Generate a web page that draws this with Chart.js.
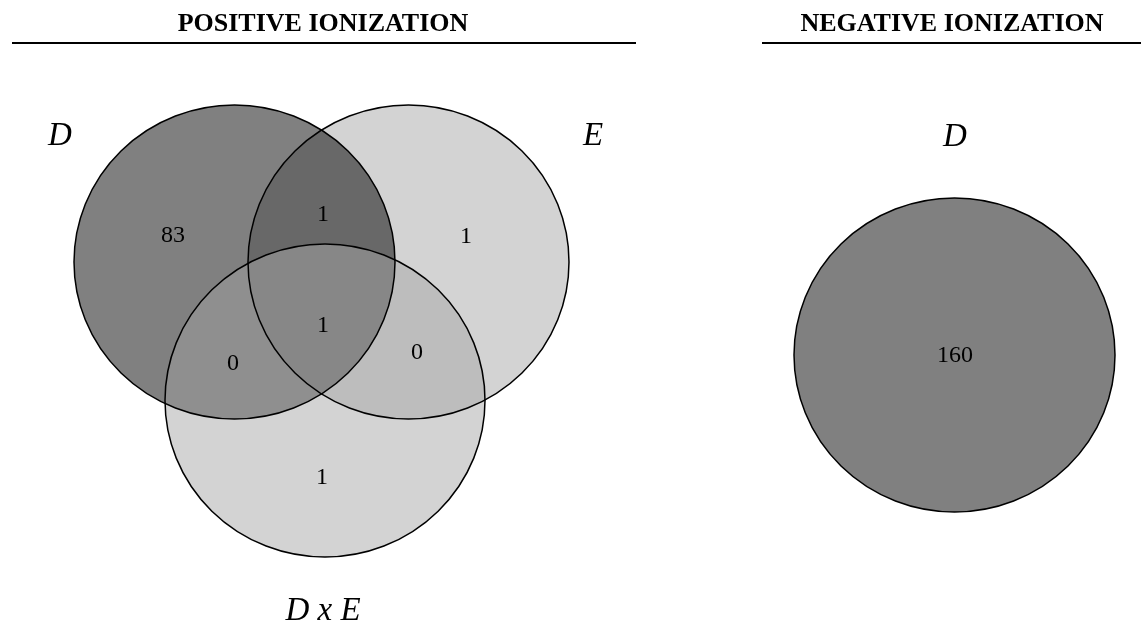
<!DOCTYPE html>
<html><head><meta charset="utf-8">
<script src="https://cdn.jsdelivr.net/npm/chart.js@4.4.1/dist/chart.umd.min.js"></script>
<style>html,body{margin:0;padding:0;background:#fff;overflow:hidden}#wrap{width:1147px;height:623px;position:relative}</style>
</head><body><div id="wrap"><canvas id="c" width="1147" height="623"></canvas></div>
<script>
// ---- data ----
const panelTitles = ['POSITIVE IONIZATION', 'NEGATIVE IONIZATION'];
const positiveSets = ['D', 'E', 'D x E'];
const positiveRegions = ['D', 'E', 'D x E', 'D∩E', 'D∩D x E', 'E∩D x E', 'D∩E∩D x E'];
const positiveCounts = [83, 1, 1, 1, 0, 0, 1];
const negativeSets = ['D'];
const negativeRegions = ['D'];
const negativeCounts = [160];

// ---- layout (chart units) ----
const titleLayout = [{x: 323, y: 31, line: [12, 636]}, {x: 952, y: 31, line: [762, 1141]}];
const titleLineY = 43;
const posCircles = [{x: 234.5, y: 262, rx: 160.5, ry: 157}, {x: 408.5, y: 262, rx: 160.5, ry: 157}, {x: 325, y: 400.5, rx: 160, ry: 156.5}];
const posSetLabelPos = [{x: 60, y: 145}, {x: 593, y: 145}, {x: 323, y: 620}];
const posRegionPos = [{x: 173, y: 242}, {x: 466, y: 243}, {x: 322, y: 484}, {x: 323, y: 221}, {x: 233, y: 370}, {x: 417, y: 359}, {x: 323, y: 332}];
const negCircles = [{x: 954.5, y: 355, rx: 160.5, ry: 157}];
const negSetLabelPos = [{x: 955, y: 146}];
const negRegionPos = [{x: 955, y: 362}];

// ---- styles ----
const posRegionColors = ['#808080', '#d3d3d3', '#d3d3d3', '#686868', '#8f8f8f', '#bdbdbd', '#878787'];
const posRegionMembers = [[0], [1], [2], [0, 1], [0, 2], [1, 2], [0, 1, 2]];
const negRegionColors = ['#808080'];
const serif = '"Liberation Serif", "Times New Roman", serif';

const vennPlugin = {
  id: 'venn',
  beforeDatasetsDraw(chart) {
    const ctx = chart.ctx, xs = chart.scales.x, ys = chart.scales.y;
    const px = v => xs.getPixelForValue(v), py = v => ys.getPixelForValue(v);
    const ell = c => {
      ctx.beginPath();
      ctx.ellipse(px(c.x), py(c.y), Math.abs(px(c.x + c.rx) - px(c.x)), Math.abs(py(c.y + c.ry) - py(c.y)), 0, 0, Math.PI * 2);
    };
    const fillRegion = (circles, members, color) => {
      ctx.save();
      members.forEach(i => { ell(circles[i]); ctx.clip(); });
      ctx.fillStyle = color;
      ctx.fillRect(0, 0, chart.width, chart.height);
      ctx.restore();
    };
    posRegionMembers.forEach((m, k) => fillRegion(posCircles, m, posRegionColors[k]));
    negCircles.forEach((c, k) => fillRegion(negCircles, [k], negRegionColors[k]));
    ctx.save();
    ctx.strokeStyle = '#000';
    ctx.lineWidth = 1.5;
    posCircles.concat(negCircles).forEach(c => { ell(c); ctx.stroke(); });
    ctx.restore();

    // titles
    ctx.save();
    ctx.fillStyle = '#000';
    ctx.textAlign = 'center';
    ctx.textBaseline = 'alphabetic';
    ctx.font = 'bold 26px ' + serif;
    panelTitles.forEach((t, i) => ctx.fillText(t, px(titleLayout[i].x), py(titleLayout[i].y)));
    ctx.strokeStyle = '#000';
    ctx.lineWidth = 2;
    titleLayout.forEach(tl => {
      ctx.beginPath();
      ctx.moveTo(px(tl.line[0]), py(titleLineY));
      ctx.lineTo(px(tl.line[1]), py(titleLineY));
      ctx.stroke();
    });
    // set labels
    ctx.font = 'italic 33px ' + serif;
    positiveSets.forEach((s, i) => ctx.fillText(s, px(posSetLabelPos[i].x), py(posSetLabelPos[i].y)));
    negativeSets.forEach((s, i) => ctx.fillText(s, px(negSetLabelPos[i].x), py(negSetLabelPos[i].y)));
    ctx.restore();
  },
  afterDatasetsDraw(chart) {
    const ctx = chart.ctx;
    ctx.save();
    ctx.fillStyle = '#000';
    ctx.textAlign = 'center';
    ctx.textBaseline = 'alphabetic';
    ctx.font = '24px ' + serif;
    chart.data.datasets.forEach((ds, di) => {
      const meta = chart.getDatasetMeta(di);
      meta.data.forEach((pt, i) => ctx.fillText(String(ds.counts[i]), pt.x, pt.y));
    });
    ctx.restore();
  }
};

new Chart(document.getElementById('c'), {
  type: 'scatter',
  data: {
    datasets: [
      {label: 'Positive ionization', data: posRegionPos.map(p => ({x: p.x, y: p.y})), counts: positiveCounts, regions: positiveRegions, pointRadius: 0, pointHoverRadius: 0},
      {label: 'Negative ionization', data: negRegionPos.map(p => ({x: p.x, y: p.y})), counts: negativeCounts, regions: negativeRegions, pointRadius: 0, pointHoverRadius: 0}
    ]
  },
  options: {
    responsive: false,
    animation: false,
    layout: {padding: 0},
    events: [],
    plugins: {legend: {display: false}, tooltip: {enabled: false}, title: {display: false}},
    scales: {
      x: {type: 'linear', min: 0, max: 1147, display: false},
      y: {type: 'linear', min: 0, max: 623, reverse: true, display: false}
    }
  },
  plugins: [vennPlugin]
});
</script>
</body></html>
